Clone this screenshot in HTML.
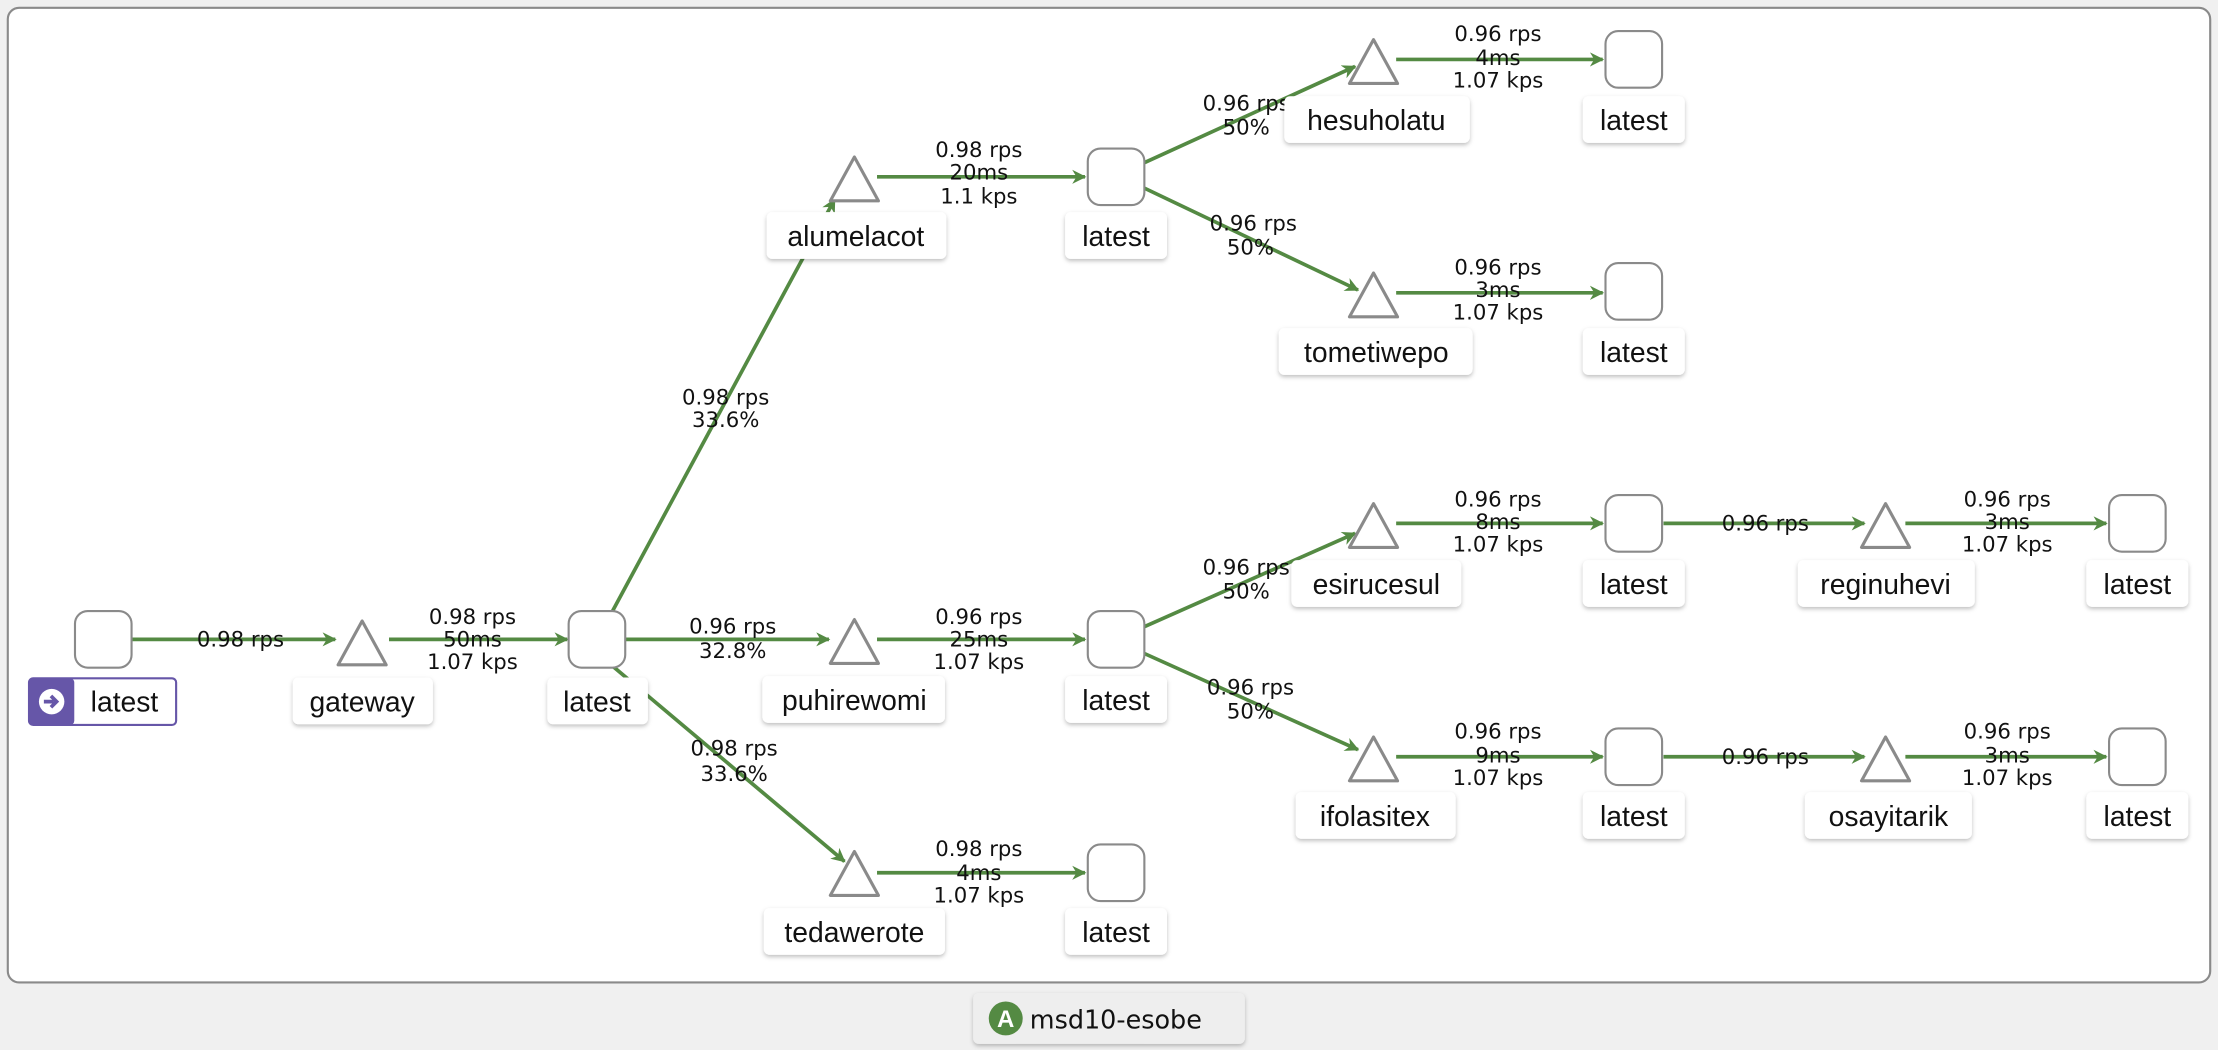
<!DOCTYPE html>
<html><head><meta charset="utf-8"><style>
html,body{margin:0;padding:0;background:#f0f0f0;}
svg{display:block}
.e{stroke:#548a43;stroke-width:2.6;fill:none;marker-end:url(#ar)}
.el{font-family:"DejaVu Sans",sans-serif;font-size:15px;fill:#111;text-anchor:middle}
.sq{fill:#fff;stroke:#8a8a8a;stroke-width:1.5}
.tr{fill:#fff;stroke:#8a8a8a;stroke-width:2.2;stroke-linejoin:round}
.lb{fill:#fff;filter:url(#sh)}
.lt{font-family:"Liberation Sans",sans-serif;font-size:20px;fill:#111;text-anchor:middle}
</style></head><body>
<svg width="2218" height="1050" viewBox="0 0 1568 742.3" xmlns="http://www.w3.org/2000/svg">
<defs>
<marker id="ar" markerWidth="10" markerHeight="10" refX="9" refY="5" orient="auto" markerUnits="userSpaceOnUse" viewBox="0 0 10 10">
<path d="M0,0 L10,5 L0,10 L3,5 Z" fill="#548a43"/></marker>
<filter id="sh" x="-20%" y="-30%" width="140%" height="170%"><feDropShadow dx="0" dy="1.5" stdDeviation="1.5" flood-color="#000" flood-opacity="0.25"/></filter>
</defs>
<rect x="0" y="0" width="1568" height="742.3" fill="#f0f0f0"/>
<rect x="5.5" y="5.5" width="1557" height="689" rx="8" fill="#fff" stroke="#8a8a8a" stroke-width="1.5"/>

<line class="e" x1="93" y1="452" x2="237" y2="452"/>
<line class="e" x1="275" y1="452" x2="401" y2="452"/>
<line class="e" x1="433" y1="432" x2="590" y2="141"/>
<line class="e" x1="442" y1="452" x2="586" y2="452"/>
<line class="e" x1="432" y1="470" x2="597" y2="609"/>
<line class="e" x1="620" y1="125" x2="767" y2="125"/>
<line class="e" x1="620" y1="452" x2="767" y2="452"/>
<line class="e" x1="620" y1="617" x2="767" y2="617"/>
<line class="e" x1="809" y1="115" x2="958" y2="47"/>
<line class="e" x1="809" y1="133" x2="960" y2="205"/>
<line class="e" x1="809" y1="443" x2="958" y2="377"/>
<line class="e" x1="809" y1="462" x2="960" y2="530"/>
<line class="e" x1="987" y1="42" x2="1133" y2="42"/>
<line class="e" x1="987" y1="207" x2="1133" y2="207"/>
<line class="e" x1="987" y1="370" x2="1133" y2="370"/>
<line class="e" x1="987" y1="535" x2="1133" y2="535"/>
<line class="e" x1="1176" y1="370" x2="1318" y2="370"/>
<line class="e" x1="1176" y1="535" x2="1318" y2="535"/>
<line class="e" x1="1347" y1="370" x2="1489" y2="370"/>
<line class="e" x1="1347" y1="535" x2="1489" y2="535"/>

<g class="el">
<text x="170" y="457">0.98 rps</text>
<text x="334" y="441">0.98 rps</text><text x="334" y="457">50ms</text><text x="334" y="473">1.07 kps</text>
<text x="513" y="286">0.98 rps</text><text x="513" y="302">33.6%</text>
<text x="518" y="448">0.96 rps</text><text x="518" y="465">32.8%</text>
<text x="519" y="534">0.98 rps</text><text x="519" y="552">33.6%</text>
<text x="692" y="111">0.98 rps</text><text x="692" y="127">20ms</text><text x="692" y="144">1.1 kps</text>
<text x="692" y="441">0.96 rps</text><text x="692" y="457">25ms</text><text x="692" y="473">1.07 kps</text>
<text x="692" y="605">0.98 rps</text><text x="692" y="622">4ms</text><text x="692" y="638">1.07 kps</text>
<text x="881" y="78">0.96 rps</text><text x="881" y="95">50%</text>
<text x="886" y="163">0.96 rps</text><text x="884" y="180">50%</text>
<text x="881" y="406">0.96 rps</text><text x="881" y="423">50%</text>
<text x="884" y="491">0.96 rps</text><text x="884" y="508">50%</text>
<text x="1059" y="29">0.96 rps</text><text x="1059" y="46">4ms</text><text x="1059" y="62">1.07 kps</text>
<text x="1059" y="194">0.96 rps</text><text x="1059" y="210">3ms</text><text x="1059" y="226">1.07 kps</text>
<text x="1059" y="358">0.96 rps</text><text x="1059" y="374">8ms</text><text x="1059" y="390">1.07 kps</text>
<text x="1059" y="522">0.96 rps</text><text x="1059" y="539">9ms</text><text x="1059" y="555">1.07 kps</text>
<text x="1248" y="375">0.96 rps</text>
<text x="1248" y="540">0.96 rps</text>
<text x="1419" y="358">0.96 rps</text><text x="1419" y="374">3ms</text><text x="1419" y="390">1.07 kps</text>
<text x="1419" y="522">0.96 rps</text><text x="1419" y="539">3ms</text><text x="1419" y="555">1.07 kps</text>
</g>

<g class="sq">
<rect x="53" y="432" width="40" height="40" rx="9"/>
<rect x="402" y="432" width="40" height="40" rx="9"/>
<rect x="769" y="105" width="40" height="40" rx="9"/>
<rect x="769" y="432" width="40" height="40" rx="9"/>
<rect x="769" y="597" width="40" height="40" rx="9"/>
<rect x="1135" y="22" width="40" height="40" rx="9"/>
<rect x="1135" y="186" width="40" height="40" rx="9"/>
<rect x="1135" y="350" width="40" height="40" rx="9"/>
<rect x="1135" y="515" width="40" height="40" rx="9"/>
<rect x="1491" y="350" width="40" height="40" rx="9"/>
<rect x="1491" y="515" width="40" height="40" rx="9"/>
</g>
<g class="tr">
<path d="M256,439 L239,470 L273,470 Z"/>
<path d="M604,111 L587,142 L621,142 Z"/>
<path d="M604,438 L587,469 L621,469 Z"/>
<path d="M604,602 L587,633 L621,633 Z"/>
<path d="M971,28 L954,59 L988,59 Z"/>
<path d="M971,193 L954,224 L988,224 Z"/>
<path d="M971,356 L954,387 L988,387 Z"/>
<path d="M971,521 L954,552 L988,552 Z"/>
<path d="M1333,356 L1316,387 L1350,387 Z"/>
<path d="M1333,521 L1316,552 L1350,552 Z"/>
</g>

<rect x="20.5" y="479.5" width="104" height="33" rx="3" fill="#fff" stroke="#6656a8" stroke-width="1.5"/>
<rect x="20.5" y="479.5" width="32" height="33" rx="3" fill="#6656a8"/>
<circle cx="36.5" cy="496" r="9" fill="#fff"/>
<path d="M31,496 h7 M36,492 l4,4 l-4,4" stroke="#6656a8" stroke-width="2.6" fill="none"/>
<text class="lt" x="88" y="503">latest</text>

<g>
<rect class="lb" x="207" y="479" width="99" height="33" rx="4"/><text class="lt" x="256" y="503">gateway</text>
<rect class="lb" x="387" y="479" width="71" height="33" rx="4"/><text class="lt" x="422" y="503">latest</text>
<rect class="lb" x="542" y="150" width="127" height="33" rx="4"/><text class="lt" x="605" y="174">alumelacot</text>
<rect class="lb" x="539" y="478" width="129" height="33" rx="4"/><text class="lt" x="604" y="502">puhirewomi</text>
<rect class="lb" x="540" y="642" width="128" height="33" rx="4"/><text class="lt" x="604" y="666">tedawerote</text>
<rect class="lb" x="753" y="150" width="72" height="33" rx="4"/><text class="lt" x="789" y="174">latest</text>
<rect class="lb" x="753" y="478" width="72" height="33" rx="4"/><text class="lt" x="789" y="502">latest</text>
<rect class="lb" x="753" y="642" width="72" height="33" rx="4"/><text class="lt" x="789" y="666">latest</text>
<rect class="lb" x="908" y="68" width="131" height="33" rx="4"/><text class="lt" x="973" y="92">hesuholatu</text>
<rect class="lb" x="904" y="232" width="137" height="33" rx="4"/><text class="lt" x="973" y="256">tometiwepo</text>
<rect class="lb" x="913" y="396" width="120" height="33" rx="4"/><text class="lt" x="973" y="420">esirucesul</text>
<rect class="lb" x="916" y="560" width="113" height="33" rx="4"/><text class="lt" x="972" y="584">ifolasitex</text>
<rect class="lb" x="1119" y="68" width="72" height="33" rx="4"/><text class="lt" x="1155" y="92">latest</text>
<rect class="lb" x="1119" y="232" width="72" height="33" rx="4"/><text class="lt" x="1155" y="256">latest</text>
<rect class="lb" x="1119" y="396" width="72" height="33" rx="4"/><text class="lt" x="1155" y="420">latest</text>
<rect class="lb" x="1119" y="560" width="72" height="33" rx="4"/><text class="lt" x="1155" y="584">latest</text>
<rect class="lb" x="1271" y="396" width="125" height="33" rx="4"/><text class="lt" x="1333" y="420">reginuhevi</text>
<rect class="lb" x="1276" y="560" width="118" height="33" rx="4"/><text class="lt" x="1335" y="584">osayitarik</text>
<rect class="lb" x="1475" y="396" width="72" height="33" rx="4"/><text class="lt" x="1511" y="420">latest</text>
<rect class="lb" x="1475" y="560" width="72" height="33" rx="4"/><text class="lt" x="1511" y="584">latest</text>
</g>

<rect x="688" y="702" width="192" height="36" rx="4" fill="#eeeeee" filter="url(#sh)"/>
<circle cx="711" cy="720" r="12" fill="#548a43"/>
<text x="711" y="726" font-family="Liberation Sans,sans-serif" font-size="17" font-weight="bold" fill="#fff" text-anchor="middle">A</text>
<text x="728" y="727" font-family="DejaVu Sans,sans-serif" font-size="18" fill="#111">msd10-esobe</text>
</svg>
</body></html>
